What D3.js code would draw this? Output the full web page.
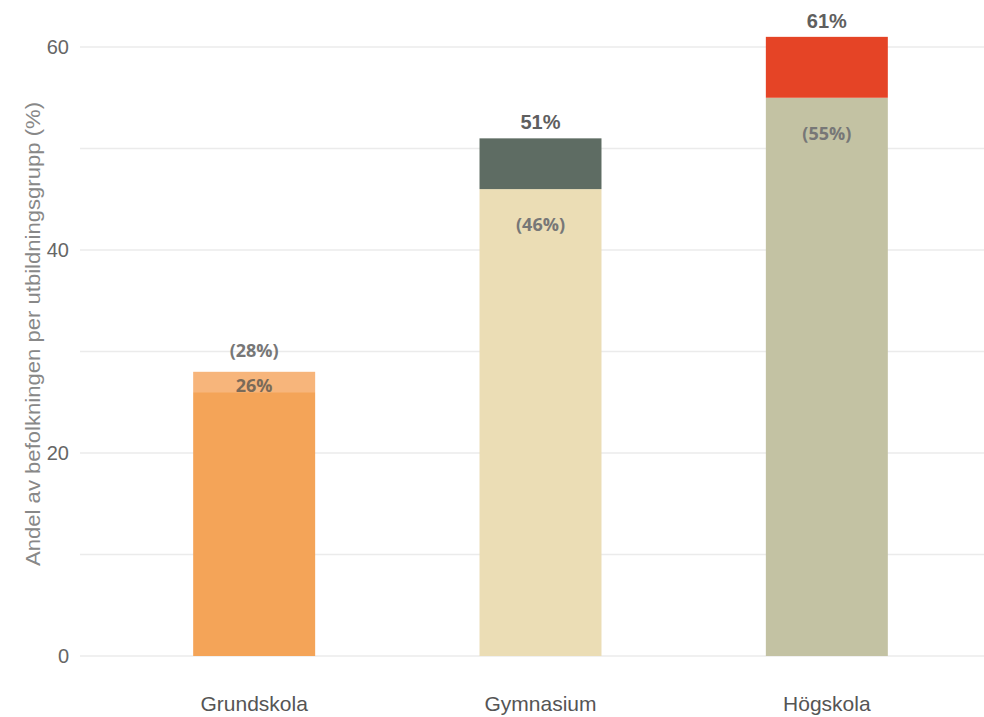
<!DOCTYPE html>
<html><head><meta charset="utf-8">
<script src="https://cdn.jsdelivr.net/npm/d3@7"></script>
<style>body{margin:0;background:#fff}svg{display:block}</style>
</head><body>
<svg id="c" width="984" height="717"></svg>
<script>
const categories = ["Grundskola", "Gymnasium", "Högskola"];
const baseValues = [26, 46, 55];
const totalValues = [28, 51, 61];
const baseLabels = ["26%", "(46%)", "(55%)"];
const topLabels = ["(28%)", "51%", "61%"];
const baseColors = ["#F4A458", "#EBDDB5", "#C3C2A3"];
const topColors = ["#F7B57B", "#5E6C63", "#E54426"];
const yTicks = [0, 20, 40, 60];
const yGrid = [0, 10, 20, 30, 40, 50, 60];

const svg = d3.select("#c");
const y = d3.scaleLinear().domain([0, 60]).range([656, 47]);
const x = d3.scaleBand().domain(categories).range([111, 970]).paddingInner(0.574).paddingOuter(0.287);

svg.append("g").selectAll("line").data(yGrid).join("line")
  .attr("x1", 80).attr("x2", 984)
  .attr("y1", d => y(d)).attr("y2", d => y(d))
  .attr("stroke", "#ebebeb").attr("stroke-width", 1.5);

const sans = "Liberation Sans, Arial, sans-serif";
const yAxis = d3.axisLeft(y).tickValues(yTicks).tickSize(0).tickPadding(0);
const ga = svg.append("g").attr("transform", "translate(69,0)").call(yAxis);
ga.select(".domain").remove();
ga.selectAll("text").attr("font-family", sans).attr("font-size", 20).attr("fill", "#666");

const xAxis = d3.axisBottom(x).tickSize(0).tickPadding(0);
const gx = svg.append("g").attr("transform", "translate(0,696)").call(xAxis);
gx.select(".domain").remove();
gx.selectAll("text").attr("font-family", sans).attr("font-size", 21).attr("fill", "#555");

svg.append("text")
  .attr("transform", "translate(40,334) rotate(-90)")
  .attr("text-anchor", "middle")
  .attr("font-family", sans)
  .attr("font-size", 21).attr("fill", "#888")
  .attr("textLength", 464).attr("lengthAdjust", "spacingAndGlyphs")
  .text("Andel av befolkningen per utbildningsgrupp (%)");

const data = categories.map((c, i) => ({c, b: baseValues[i], t: totalValues[i], i}));

svg.append("g").selectAll("rect").data(data).join("rect")
  .attr("x", d => x(d.c)).attr("width", x.bandwidth())
  .attr("y", d => y(d.b)).attr("height", d => y(0) - y(d.b))
  .attr("fill", d => baseColors[d.i]);
svg.append("g").selectAll("rect").data(data).join("rect")
  .attr("x", d => x(d.c)).attr("width", x.bandwidth())
  .attr("y", d => y(d.t)).attr("height", d => y(d.b) - y(d.t))
  .attr("fill", d => topColors[d.i]);

const font = "Open Sans, DejaVu Sans, sans-serif";
svg.append("g").selectAll("text").data(data).join("text")
  .attr("x", d => x(d.c) + x.bandwidth() / 2)
  .attr("y", d => y(d.t) - (d.i === 0 ? 15 : 9))
  .attr("text-anchor", "middle")
  .attr("font-family", d => d.i === 0 ? font : sans).attr("font-weight", 700)
  .attr("font-size", d => d.i === 0 ? 18 : 20).attr("fill", d => d.i === 0 ? "#777" : "#5f5f5f")
  .text(d => topLabels[d.i]);
svg.append("g").selectAll("text").data(data).join("text")
  .attr("x", d => x(d.c) + x.bandwidth() / 2)
  .attr("y", d => d.i === 0 ? y(d.b) + 0 : y(d.b) + 42)
  .attr("text-anchor", "middle").attr("font-family", font).attr("font-weight", 700)
  .attr("font-size", 18).attr("fill", d => d.i === 0 ? "#7a6a58" : "#777")
  .text(d => baseLabels[d.i]);
</script>
</body></html>
